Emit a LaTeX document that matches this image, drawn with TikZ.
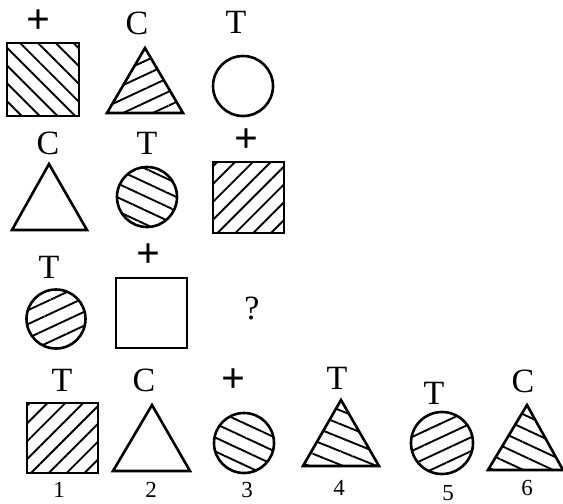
\documentclass[tikz,border=0pt]{standalone}
\usepackage{fontspec}
\setmainfont{Liberation Serif}
\usetikzlibrary{patterns.meta}
\tikzset{
  fig/.style={line width=1.3pt, line join=miter},
  hatch/.style={pattern={Lines[angle=#1, distance=6.3pt, line width=0.95pt]}},
  toplabel/.style={font=\fontsize{17}{20}\selectfont, inner sep=0pt},
  pluslabel/.style={font=\bfseries\fontsize{21}{24}\selectfont, inner sep=0pt},
  numlabel/.style={font=\fontsize{11.5}{13}\selectfont, inner sep=0pt}
}

\begin{document}
\begin{tikzpicture}[x=0.5pt,y=-0.5pt]
\useasboundingbox (0,0) rectangle (563,504);
% row 1
\draw[fig,hatch=-45] (7,43) rectangle (79,116);
\draw[fig,hatch=25] (145,48) -- (183,113) -- (107,113) -- cycle;
\draw[fig] (243,86) circle (30);
\node[pluslabel] (p1) at (38,22) {+};
\node[toplabel] (c1) at (137,23) {C};
\node[toplabel] (t1) at (236,22) {T};
% row 2
\draw[fig] (49,164) -- (87,230) -- (12,230) -- cycle;
\draw[fig,hatch=-25] (147,197) circle (30);
\draw[fig,hatch=45] (213,162) rectangle (284,233);
\node[toplabel] (c2) at (48,143) {C};
\node[toplabel] (t2) at (147,143) {T};
\node[pluslabel] (p2) at (246,141) {+};
% row 3
\draw[fig,hatch=25] (56,319) circle (29.5);
\draw[fig] (116,278) rectangle (187,348);
\node[toplabel] (t3) at (49,267) {T};
\node[pluslabel] (p3) at (148,256) {+};
\node[toplabel] (q) at (252,308) {?};
% answers
\draw[fig,hatch=45] (27,403) rectangle (98,473);
\draw[fig] (152,405) -- (190,471) -- (113,471) -- cycle;
\draw[fig,hatch=-25] (244,443) circle (30);
\draw[fig,hatch=-22] (341,400) -- (379,466) -- (303,466) -- cycle;
\draw[fig,hatch=25] (442,443) circle (31);
\draw[fig,hatch=-25] (527,405) -- (563,470) -- (488,470) -- cycle;
\node[toplabel] (a1) at (62,380) {T};
\node[toplabel] (a2) at (144,380) {C};
\node[pluslabel] (a3) at (233,381) {+};
\node[toplabel] (a4) at (337,378) {T};
\node[toplabel] (a5) at (434,393) {T};
\node[toplabel] (a6) at (523,381) {C};
\node[numlabel] (n1) at (59,490) {1};
\node[numlabel] (n2) at (151,490) {2};
\node[numlabel] (n3) at (247,490) {3};
\node[numlabel] (n4) at (339,488) {4};
\node[numlabel] (n5) at (448,493) {5};
\node[numlabel] (n6) at (527,488) {6};
\end{tikzpicture}
\end{document}
